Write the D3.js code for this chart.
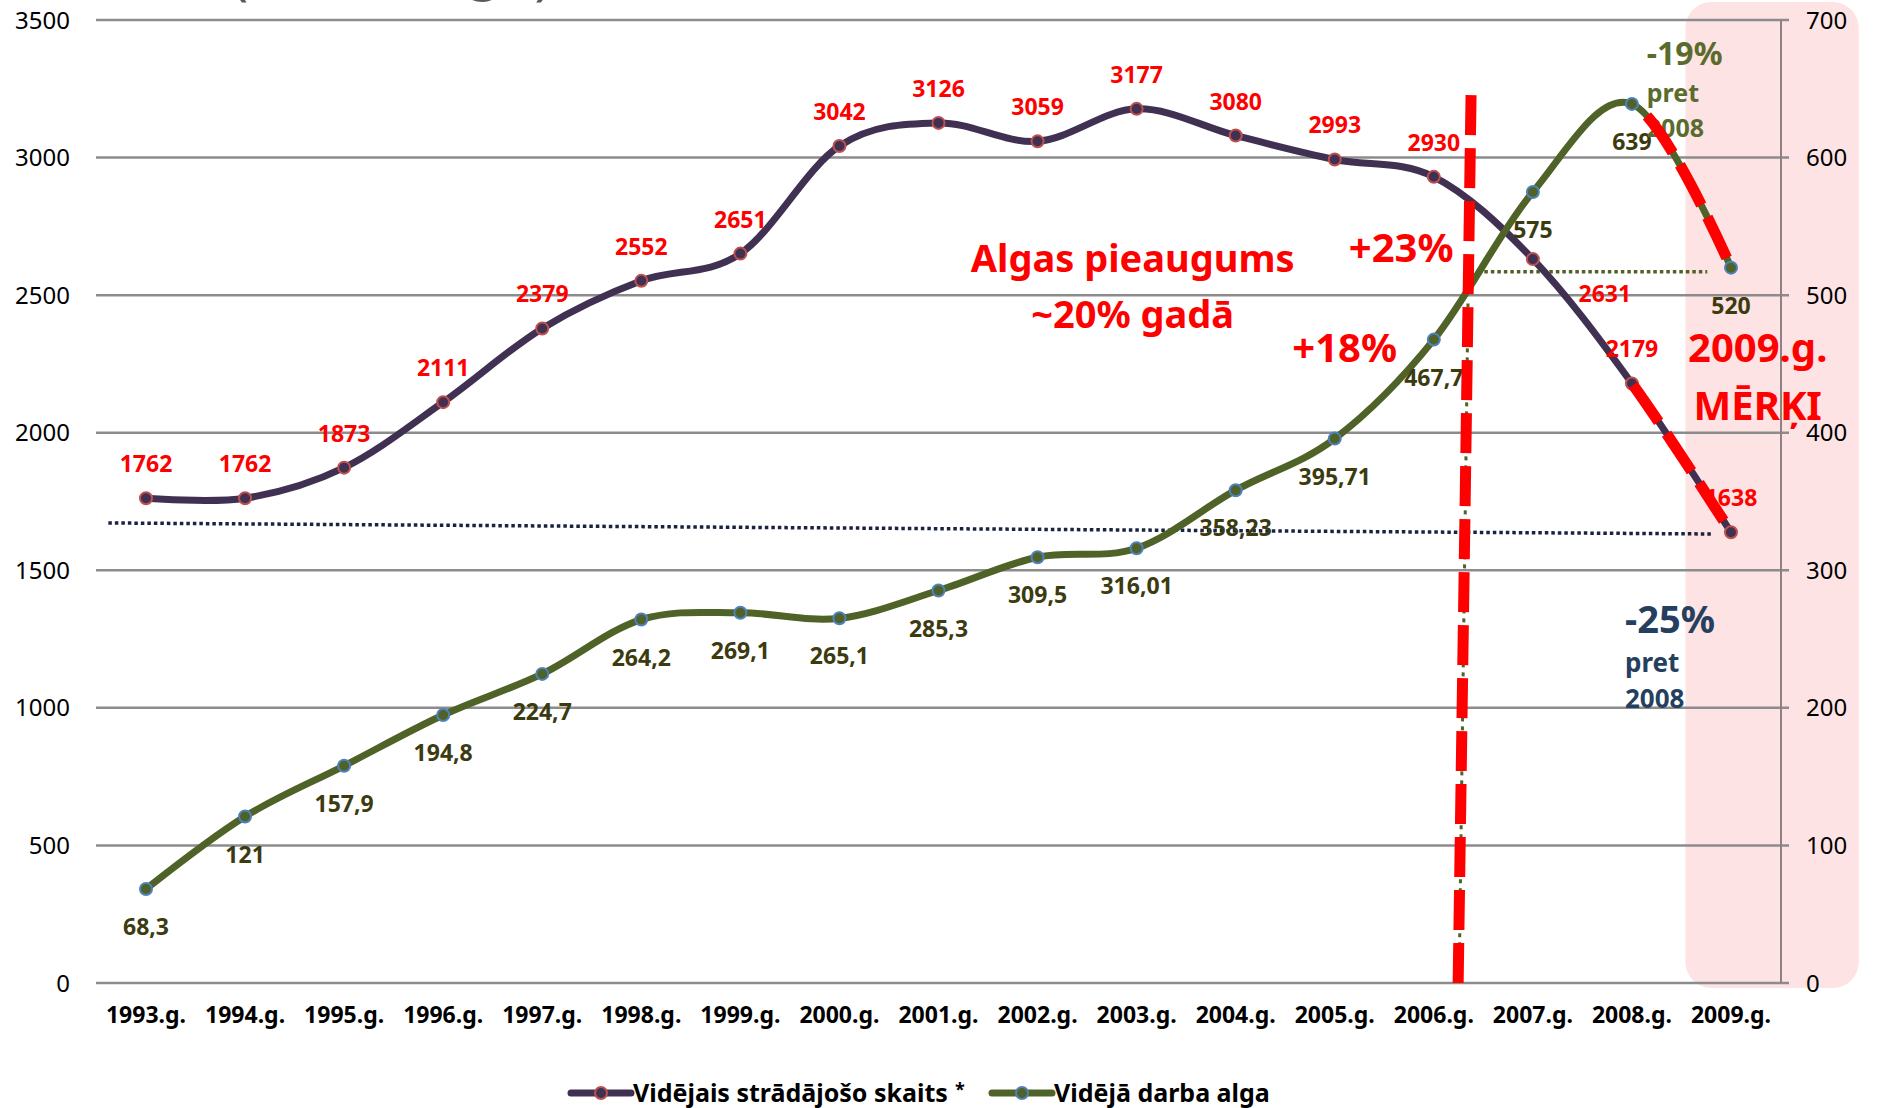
<!DOCTYPE html>
<html><head><meta charset="utf-8">
<script src="https://cdn.jsdelivr.net/npm/d3@7"></script>
<style>
body{margin:0;background:#fff;}
svg{display:block;font-family:"Noto Sans",sans-serif;}
</style>
</head><body>
<svg id="chart" width="1878" height="1108"></svg>
<script>
// ---- data ----
const years = ["1993.g.","1994.g.","1995.g.","1996.g.","1997.g.","1998.g.","1999.g.","2000.g.","2001.g.","2002.g.","2003.g.","2004.g.","2005.g.","2006.g.","2007.g.","2008.g.","2009.g."];
const employees = [1762,1762,1873,2111,2379,2552,2651,3042,3126,3059,3177,3080,2993,2930,2631,2179,1638];
const employeeLabels = ["1762","1762","1873","2111","2379","2552","2651","3042","3126","3059","3177","3080","2993","2930","2631","2179","1638"];
const wages = [68.3,121,157.9,194.8,224.7,264.2,269.1,265.1,285.3,309.5,316.01,358.23,395.71,467.7,575,639,520];
const wageLabels = ["68,3","121","157,9","194,8","224,7","264,2","269,1","265,1","285,3","309,5","316,01","358,23","395,71","467,7","575","639","520"];
const leftTicks = [0,500,1000,1500,2000,2500,3000,3500];
const rightTicks = [0,100,200,300,400,500,600,700];
const seriesNames = ["Vidējais strādājošo skaits","Vidējā darba alga"];

// ---- layout ----
const plotL = 96, plotR = 1781, plotT = 20, plotB = 983;
const svg = d3.select("#chart");

const x = d3.scalePoint().domain(years).range([146, 1731]);
const xi = d3.scaleLinear().domain([0, years.length - 1]).range([146, 1731]);
const yL = d3.scaleLinear().domain([0, 3500]).range([plotB, plotT]);
const yR = d3.scaleLinear().domain([0, 700]).range([plotB, plotT]);

const C = {
  purple: "#403152", purpleMk: "#c0504d",
  green: "#4f6228", greenMk: "#4f81bd",
  red: "#ff0000", olive: "#5a6b2d", olivelab: "#3b3b0f",
  navy: "#25405f", grid: "#8c8c8c"
};

// partially visible title (cut at top edge, only glyph bottoms show)
const titleG = svg.append("g").attr("fill", "#595959").attr("font-size", 56);
[["(", 240, -6], ["g", 484, -12], [")", 543, -6]].forEach(([t, px, py]) => {
  titleG.append("text").attr("x", px).attr("y", py).attr("text-anchor", "middle").text(t);
});

// pink 2009 panel
svg.append("rect")
  .attr("x", xi(15.54)).attr("y", 2)
  .attr("width", xi(17.29) - xi(15.54)).attr("height", 986)
  .attr("rx", 26).attr("fill", "#fde3e3");

// gridlines
svg.append("g").selectAll("line").data(leftTicks).join("line")
  .attr("x1", plotL).attr("x2", plotR + 8)
  .attr("y1", d => yL(d)).attr("y2", d => yL(d))
  .attr("stroke", C.grid).attr("stroke-width", 2.5);

// right axis line
svg.append("line").attr("x1", plotR).attr("x2", plotR)
  .attr("y1", yL(3500)).attr("y2", yL(0))
  .attr("stroke", "#8e8181").attr("stroke-width", 2);

// left tick labels
svg.append("g").selectAll("text").data(leftTicks).join("text")
  .attr("x", 70).attr("y", d => yL(d)).attr("dy", "0.36em")
  .attr("text-anchor", "end").attr("font-size", 24).attr("fill", "#000")
  .text(d => d);

// right tick labels
svg.append("g").selectAll("text").data(rightTicks).join("text")
  .attr("x", 1806).attr("y", d => yR(d)).attr("dy", "0.36em")
  .attr("text-anchor", "start").attr("font-size", 24).attr("fill", "#000")
  .text(d => d);

// x labels
svg.append("g").selectAll("text").data(years).join("text")
  .attr("x", d => x(d)).attr("y", 1023)
  .attr("text-anchor", "middle").attr("font-size", 23).attr("font-weight", "bold")
  .attr("fill", "#000").text(d => d);

// reference dotted lines
svg.append("line")
  .attr("x1", xi(-0.38)).attr("y1", yL(1672))
  .attr("x2", xi(15.8)).attr("y2", yL(1632))
  .attr("stroke", "#1a2240").attr("stroke-width", 3.5).attr("stroke-dasharray", "3.5,3");
svg.append("line")
  .attr("x1", xi(13.51)).attr("y1", yR(517))
  .attr("x2", xi(15.76)).attr("y2", yR(517))
  .attr("stroke", C.green).attr("stroke-width", 3.5).attr("stroke-dasharray", "3.5,3");
svg.append("line")
  .attr("x1", xi(13.345)).attr("y1", yR(494))
  .attr("x2", xi(13.255)).attr("y2", yR(-2))
  .attr("stroke", C.green).attr("stroke-width", 3).attr("stroke-dasharray", "4,5");

// series lines
const lineEmp = d3.line().x((d, i) => x(years[i])).y(d => yL(d)).curve(d3.curveCatmullRom.alpha(0));
const lineWage = d3.line().x((d, i) => x(years[i])).y(d => yR(d)).curve(d3.curveCatmullRom.alpha(0));

const pEmp = svg.append("path").attr("d", lineEmp(employees)).attr("fill", "none")
  .attr("stroke", C.purple).attr("stroke-width", 7).attr("stroke-linecap", "round");
const pWage = svg.append("path").attr("d", lineWage(wages)).attr("fill", "none")
  .attr("stroke", C.green).attr("stroke-width", 7).attr("stroke-linecap", "round");

// markers
svg.append("g").selectAll("circle").data(employees).join("circle")
  .attr("cx", (d, i) => x(years[i])).attr("cy", d => yL(d)).attr("r", 6)
  .attr("fill", C.purple).attr("stroke", C.purpleMk).attr("stroke-width", 2);
svg.append("g").selectAll("circle").data(wages).join("circle")
  .attr("cx", (d, i) => x(years[i])).attr("cy", d => yR(d)).attr("r", 6)
  .attr("fill", C.green).attr("stroke", C.greenMk).attr("stroke-width", 2);

// data labels
svg.append("g").selectAll("text").data(employees).join("text")
  .attr("x", (d, i) => x(years[i]) + (i === 14 ? 72 : 0))
  .attr("y", (d, i) => yL(d) + (i === 14 ? 43 : -26))
  .attr("text-anchor", "middle").attr("font-size", 23).attr("font-weight", "bold")
  .attr("fill", C.red).text((d, i) => employeeLabels[i]);
svg.append("g").selectAll("text").data(wages).join("text")
  .attr("x", (d, i) => x(years[i]))
  .attr("y", d => yR(d) + 46)
  .attr("text-anchor", "middle").attr("font-size", 23).attr("font-weight", "bold")
  .attr("fill", C.olivelab).text((d, i) => wageLabels[i]);

// annotations (positions in category-index / left-axis units)
const notes = [
  {t: "Algas pieaugums", i: 9.96, v: 2584, s: 38, c: C.red, a: "middle"},
  {t: "~20% gadā", i: 9.96, v: 2381, s: 38, c: C.red, a: "middle"},
  {t: "+23%", i: 12.67, v: 2620, s: 40, c: C.red, a: "middle"},
  {t: "+18%", i: 12.10, v: 2257, s: 40, c: C.red, a: "middle"},
  {t: "-19%", i: 15.15, v: 3337, s: 32, c: C.olive, a: "start"},
  {t: "pret", i: 15.15, v: 3202, s: 25, c: C.olive, a: "start"},
  {t: "2008", i: 15.15, v: 3075, s: 25, c: C.olive, a: "start"},
  {t: "-25%", i: 14.93, v: 1272, s: 38, c: C.navy, a: "start"},
  {t: "pret", i: 14.93, v: 1130, s: 26, c: C.navy, a: "start"},
  {t: "2008", i: 14.93, v: 999, s: 26, c: C.navy, a: "start"},
  {t: "2009.g.", i: 16.27, v: 2257, s: 40, c: C.red, a: "middle"},
  {t: "MĒRĶI", i: 16.27, v: 2046, s: 40, c: C.red, a: "middle"}
];
svg.append("g").selectAll("text").data(notes).join("text")
  .attr("x", d => xi(d.i)).attr("y", d => yL(d.v))
  .attr("text-anchor", d => d.a).attr("font-size", d => d.s)
  .attr("font-weight", "bold").attr("fill", d => d.c).text(d => d.t);

// red dashed vertical line
svg.append("line")
  .attr("x1", xi(13.376)).attr("y1", yL(3227))
  .attr("x2", xi(13.245)).attr("y2", yL(-18))
  .attr("stroke", C.red).attr("stroke-width", 11).attr("stroke-dasharray", "40,13");

// red dashes over 2008-2009 segments of both series
function redOver(pathSel, startX) {
  const node = pathSel.node();
  const total = node.getTotalLength();
  let lo = 0, hi = total;
  for (let k = 0; k < 40; k++) {
    const mid = (lo + hi) / 2;
    if (node.getPointAtLength(mid).x < startX) lo = mid; else hi = mid;
  }
  const dashes = [0, lo];
  let acc = lo;
  while (acc < total + 60) { dashes.push(45, 14); acc += 59; }
  svg.append("path").attr("d", pathSel.attr("d")).attr("fill", "none")
    .attr("stroke", C.red).attr("stroke-width", 11)
    .attr("stroke-dasharray", dashes.join(","));
}
redOver(pEmp, xi(15.01));
redOver(pWage, xi(15.15));

// legend
const lg = svg.append("g").attr("font-size", 25).attr("font-weight", "bold");
const legendItems = [
  {name: seriesNames[0], x0: 571, color: C.purple, mk: C.purpleMk},
  {name: seriesNames[1], x0: 992, color: C.green, mk: C.greenMk}
];
legendItems.forEach(it => {
  lg.append("line").attr("x1", it.x0).attr("x2", it.x0 + 60).attr("y1", 1093).attr("y2", 1093)
    .attr("stroke", it.color).attr("stroke-width", 7).attr("stroke-linecap", "round");
  lg.append("circle").attr("cx", it.x0 + 30).attr("cy", 1093).attr("r", 6)
    .attr("fill", it.color).attr("stroke", it.mk).attr("stroke-width", 2);
  lg.append("text").attr("x", it.x0 + 62).attr("y", 1093).attr("dy", "0.36em")
    .attr("fill", "#000").text(it.name);
});
lg.append("text").attr("x", 955).attr("y", 1096).attr("font-size", 18).attr("fill", "#000").text("*");
</script>
</body></html>
